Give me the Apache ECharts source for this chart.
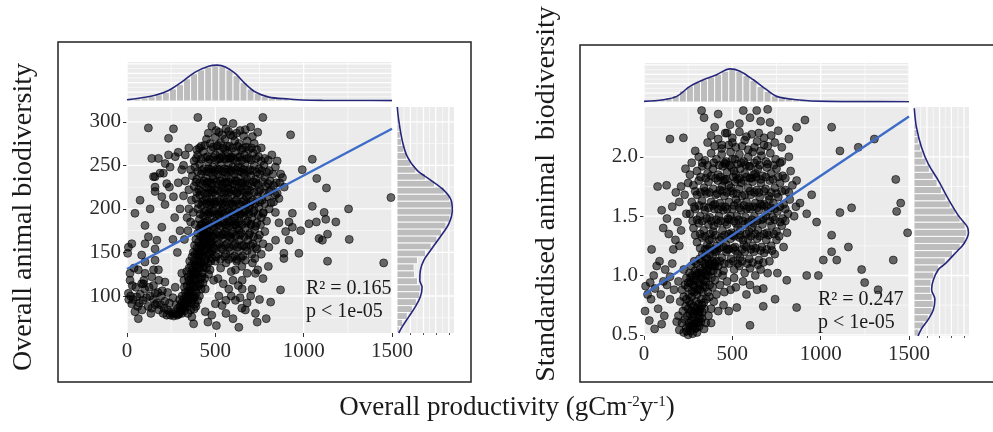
<!DOCTYPE html>
<html><head><meta charset="utf-8">
<script src="https://cdn.jsdelivr.net/npm/echarts@6/dist/echarts.min.js"></script>
<style>html,body{margin:0;padding:0;background:#fff}#c{width:993px;height:432px}</style>
</head><body><div id="c"></div>
<script>
// ---------- data ----------
const xTicks = [0, 500, 1000, 1500];
const xMinor = [250, 750, 1250];
const yTicksL = [100, 150, 200, 250, 300];
const yMinorL = [75, 125, 175, 225, 275];
const yTicksR = [0.5, 1.0, 1.5, 2.0];
const yMinorR = [0.75, 1.25, 1.75, 2.25];
const regL = [[0, 131], [1500, 292]];
const regR = [[0, 0.84], [1500, 2.34]];
const statsL = ['R\u00b2 = 0.165', 'p < 1e-05'];
const statsR = ['R\u00b2 = 0.247', 'p < 1e-05'];
const titleYL = 'Overall animal biodiversity';
const titleYR = 'Standardised animal  biodiversity';
const titleX = ['Overall productivity (gCm', '-2', 'y', '-1', ')'];

const ptsL = [
[121,293],[263,292],[401,305],[769,305],[926,285],[1049,257],[992,245],[1074,235],[1129,224],[1494,213],[1254,200],[1049,203],[1116,196],[1182,185],[1125,188],[1072,185],[1030,183],[983,175],[1135,171],[1087,166],[1106,164],[1258,165],[936,195],[917,185],[898,174],[936,179],[1135,140],[1453,138],[917,164],[841,164],[803,156],[888,149],[973,149],[888,143],[724,143],[869,107],[813,93],[788,74],[727,80],[670,84],[708,108],[652,108],[576,108],[614,95],[538,89],[500,91],[443,82],[443,108],[386,91],[367,76],[377,68],[458,70],[506,66],[633,64],[737,70],[386,126],[310,126],[273,110],[614,130],[652,118],[727,126],
[45,82],[64,74],[27,91],[8,103],[17,118],[4,149],[8,156],[17,126],[83,114],[140,122],[178,130],[159,103],[254,80],[93,114],[102,126],[159,154],[169,164],[102,160],[121,168],[197,179],[45,195],[74,210],[159,220],[150,237],[206,241],[178,258],[235,262],[263,214],[64,130],[40,132],
[131,200],[197,214],[159,225],[225,229],[187,241],[244,248],[216,252],[159,237],[140,258],[273,260],[235,281],[102,181],[27,160],[83,147],[102,139],[159,141],[150,130],
[20,100],[35,96],[55,99],[75,102],[90,95],[110,98],[130,100],[150,96],[170,92],[190,90],[210,86],[230,84],[250,82],[270,80],[290,79],[310,80],[325,83],[60,88],[85,84],[120,88],[140,86],[180,84],[205,80],[225,78],[245,78],[265,77],[285,78],[300,84],[318,90],[100,108],[125,110],[150,112],[200,106],[230,104],[260,98],[240,92],[215,94],[195,100],[175,104],[50,110],[30,112],[10,96],[70,92],[95,118],[180,118],[215,116],[278,90],[298,96],[160,90],[135,80],
[330,88],[340,92],[350,95],[335,100],[345,105],[355,110],[360,98],[370,104],[365,115],[375,120],[380,110],[385,128],[390,118],[395,135],[400,125],[405,142],[410,132],[415,150],[420,138],[425,158],[430,146],[435,165],[440,152],[445,170],[380,140],[370,130],[360,125],[350,118],[340,112],[330,104],[320,96],[310,92],[300,88],[290,86],[325,110],[345,122],[365,135],[385,148],[395,155],[405,162],[415,168],[355,140],[375,150],[390,165],[400,172],[410,178],[420,182],[430,178],[440,185],[312,100],[322,118],[338,128],[352,132],[368,145],[382,158],[398,148],[408,155],[418,145],[428,132],[438,140],[448,155],[455,165],[460,148],[470,160],[450,132],[462,125],[475,140],[480,152],[440,120],[430,115],[420,108],[410,100],[400,95],[390,88],[380,85],[360,84],[345,80],
[480,295],[520,288],[560,292],[600,298],[640,290],[700,294],[545,300],[585,285],[660,284],[740,288],
[450,280],[470,275],[500,282],[530,276],[555,280],[580,272],[610,278],[635,275],[655,270],[680,278],[720,275],[760,270],[420,272],[395,268],[600,284],[690,268],
[400,262],[430,266],[455,260],[475,268],[500,262],[525,266],[548,258],[570,264],[590,260],[615,266],[640,260],[665,262],[690,258],[715,264],[745,260],[780,258],[820,262],[380,255],[850,255],
[385,248],[410,252],[435,246],[460,254],[485,248],[505,256],[530,250],[552,246],[575,252],[598,248],[622,255],[645,247],[668,252],[695,245],[720,250],[748,246],[775,250],[805,244],[840,248],[870,240],[360,245],
[370,238],[395,234],[420,240],[445,236],[468,242],[490,234],[515,240],[538,236],[560,242],[585,234],[608,240],[630,236],[655,242],[678,234],[702,238],[728,234],[752,240],[780,236],[810,232],[845,230],[880,236],[330,232],
[380,226],[405,222],[428,228],[450,224],[472,230],[495,222],[518,228],[540,224],[563,230],[586,222],[610,228],[633,224],[657,230],[680,222],[705,226],[730,230],[755,222],[785,226],[815,222],[850,218],[350,222],[890,225],
[390,212],[412,216],[435,210],[458,218],[480,212],[502,216],[525,210],[548,218],[570,212],[594,216],[617,210],[640,216],[663,210],[688,216],[712,210],[738,214],[765,210],[795,214],[830,208],[860,212],[365,210],
[400,200],[422,204],[445,198],[468,204],[490,198],[512,204],[535,198],[558,204],[580,198],[603,204],[626,198],[649,204],[672,198],[696,204],[720,198],[746,202],[772,196],[805,200],[840,196],[375,196],
[410,188],[432,192],[455,186],[478,192],[500,186],[522,192],[545,186],[568,192],[590,186],[613,192],[636,186],[660,192],[683,186],[708,190],[735,184],[760,190],[790,186],[385,182],[860,184],
[420,176],[442,180],[465,174],[488,180],[510,174],[532,180],[555,174],[578,180],[600,174],[623,178],[646,172],[670,178],[695,172],[722,176],[750,170],[780,174],[455,170],
[430,164],[452,168],[475,162],[498,166],[520,160],[543,166],[566,160],[590,166],[612,160],[636,164],[660,158],[685,164],[712,160],[740,166],[770,160],
[470,150],[492,154],[515,148],[538,154],[560,148],[584,152],[608,146],[632,152],[656,146],[680,152],[706,148],[735,154],[760,148],
[500,140],[530,132],[560,138],[590,128],[620,140],[650,134],[680,126],[710,138],[740,130],[770,120],[800,134],[515,120],[545,114],[600,118],[630,112],[470,130],[490,118],[520,100],[560,95],[590,100],[640,98],[680,92],[560,80],[600,74],[480,78],[700,100],[750,96],[650,86],
[462,246],[488,238],[512,246],[538,228],[562,236],[588,244],[612,232],[628,248],[548,212],[572,224],[596,206],[622,218],[476,222],[498,208],[520,194],[544,202],[568,188],[592,196],[616,182],[640,194],[466,196],[490,176],[514,184],[538,170],[562,178],[586,168],[610,186],[634,176],[450,212],[474,206],[650,226],[664,240],[676,214],[690,200],[704,182],[452,230],[528,258],[556,268],[508,272],[582,258],
[300,200],[320,215],[340,190],[310,245],[330,262],[350,270],[290,230],[270,190],[345,175],[325,165],[300,175],[285,150],[260,165],[240,225],[215,205],[350,200],[360,185],[290,265],[320,250],
[460,287],[505,290],[540,285],[575,289],[620,287],[670,291],[710,283],
[410,270],[440,273],[488,271],[515,273],[545,270],[568,272],[598,270],[625,272],[648,268],[675,271],[705,270],[735,268],
[392,258],[420,257],[445,259],[468,257],[490,259],[515,257],[538,260],[560,257],[582,259],[605,257],[628,259],[652,256],[678,258],[703,256],[730,258],[760,255],[800,256],
[400,243],[425,244],[450,243],[475,245],[498,243],[522,245],[545,243],[568,245],[592,243],[615,245],[640,243],[662,245],[686,243],[710,244],[735,242],[762,244],[792,242],[825,240],
[390,231],[412,230],[436,232],[460,231],[482,229],[506,231],[528,232],[552,230],[575,231],[598,229],[620,232],[644,230],[668,231],[690,229],[716,231],[742,228],[768,231],[798,229],[830,227],[865,230],
[395,219],[418,220],[440,218],[463,221],[486,219],[510,221],[532,219],[555,221],[578,219],[602,221],[625,219],[648,221],[670,219],[695,221],[720,219],[745,220],[772,218],[805,220],[840,216],
[405,206],[428,208],[450,206],[472,208],[495,206],[518,208],[540,206],[563,208],[586,206],[610,208],[632,206],[655,208],[678,206],[702,208],[726,206],[752,208],[780,206],[815,207],
[415,194],[438,196],[460,194],[483,196],[506,194],[528,196],[550,194],[573,196],[596,194],[620,196],[643,194],[666,196],[690,194],[715,196],[742,193],[770,195],
[425,182],[448,184],[470,182],[493,184],[516,182],[538,184],[560,182],[583,184],[606,182],[630,184],[652,182],[676,184],[700,182],[728,180],[756,182],
[435,170],[458,171],[480,169],[503,171],[526,169],[548,171],[571,169],[594,171],[616,169],[640,170],[664,168],[690,170],[716,168],
[445,157],[467,158],[490,156],[512,158],[535,156],[557,158],[580,156],[603,158],[626,156],[650,158],[674,156],[700,158],[728,156],
[480,143],[505,145],[528,142],[552,145],[575,142],[598,144],[622,142],[646,144],[670,141],
[335,95],[348,100],[358,106],[372,112],[383,118],[392,126],[402,133],[412,140],[422,150],[432,158],[442,162],[452,175],[318,86],[328,92],[305,82],[295,80],[342,88],[362,92],[378,98],[393,104],[405,112],[416,120],[426,126],[436,134],[446,142],[458,138],[468,148],[478,162],[488,168],[364,120],[374,126],[386,136],[398,140],[408,150],[418,158],[428,168],[438,172],[356,102],[370,95],[384,100],[396,110],[413,114],[424,122]
];

const ptsR = [
[147,2.15],[223,2.16],[911,2.31],[1062,2.25],[1109,2.05],[1213,2.08],[1304,2.15],[1425,1.81],[1453,1.61],[1430,1.54],[1492,1.36],[1411,1.13],[1232,1.05],[1249,0.94],[1325,0.88],[1175,1.57],[1109,1.53],[1062,1.34],[1062,1.20],[1157,1.24],[1091,1.13],[1015,1.13],[987,1.00],[921,1.00],[864,0.73],[742,0.80],[808,0.96],[755,1.02],[675,0.89],[675,0.74],[600,0.58],[525,0.73],[6,0.70],[9,0.91],[43,1.22],[62,0.89],[77,1.75],[128,1.76],[100,1.55],[109,1.40],[166,1.22],[72,1.08],[147,0.99],[147,0.80],[100,0.59],[185,0.61],[864,1.80],[949,1.68],[977,1.45],[921,1.52],[883,1.61],[864,2.25],[713,2.29],[638,2.39],[562,2.39],[487,2.27],[326,2.39],
[340,2.33],[420,2.36],[600,2.33],[660,2.30],[700,2.40],[760,2.22],[540,2.28],[470,2.20],[400,2.25],[820,2.15],[780,2.08],[720,2.18],[650,2.20],[580,2.17],[500,2.12],[440,2.10],[360,2.12],
[30,0.62],[40,0.80],[60,0.55],[80,0.72],[95,0.84],[115,0.66],[130,0.92],[55,1.00],[88,1.12],[120,1.05],[160,1.10],[178,1.30],[140,1.35],[190,1.45],[200,1.62],[180,1.70],[160,1.58],[210,1.75],[230,1.68],[130,1.48],[200,1.25],[225,1.05],[20,0.84],[35,0.94],[170,0.88],[195,0.95],[110,0.95],[210,1.38],[240,1.52],[250,1.78],[235,1.90],[270,1.95],[290,2.05],[260,1.85],
[250,0.50],[262,0.53],[275,0.51],[288,0.55],[300,0.52],[312,0.57],[240,0.56],[255,0.60],[270,0.58],[285,0.62],[298,0.60],[310,0.64],[322,0.61],[230,0.63],[245,0.66],[260,0.68],[275,0.65],[290,0.70],[305,0.68],[318,0.72],[330,0.69],[220,0.70],[236,0.74],[250,0.72],[265,0.76],[280,0.74],[295,0.78],[310,0.76],[325,0.80],[338,0.77],[205,0.78],[225,0.82],[240,0.80],[255,0.84],[270,0.82],[285,0.86],[300,0.84],[315,0.88],[330,0.86],[345,0.90],[215,0.88],[232,0.92],[248,0.90],[262,0.94],[278,0.92],[292,0.96],[308,0.94],[322,0.98],[338,0.96],[352,1.00],[240,0.98],[258,1.02],[272,1.00],[288,1.04],[302,1.02],[318,1.06],[332,1.04],[348,1.08],[362,1.06],[268,1.08],[284,1.12],[298,1.10],[314,1.14],[328,1.12],[344,1.16],[358,1.14],[372,1.18],[385,1.12],[350,0.60],[365,0.66],[340,0.55],[380,0.72],[395,0.78],[410,0.84],[370,0.82],[388,0.90],[402,0.96],[418,1.02],[430,0.92],[445,1.00],[455,0.86],[470,0.95],[490,0.88],[510,0.98],[420,0.70],[450,0.75],[480,0.70],[380,0.60],[195,0.66],[215,0.60],[200,0.54],[225,0.52],
[380,2.18],[420,2.15],[460,2.20],[500,2.16],[540,2.21],[570,2.14],[610,2.19],[640,2.13],[680,2.16],[520,2.08],[590,2.06],[660,2.05],[700,2.09],[740,2.12],
[310,2.00],[345,1.97],[380,2.03],[410,1.98],[440,2.02],[465,1.96],[490,2.04],[515,1.98],[540,2.02],[565,1.96],[590,2.00],[615,2.04],[640,1.97],[665,2.01],[690,1.96],[715,2.03],[745,1.98],[780,1.96],[820,2.00],
[300,1.88],[330,1.92],[360,1.86],[390,1.90],[420,1.85],[445,1.92],[470,1.87],[495,1.91],[520,1.85],[545,1.90],[570,1.86],[595,1.92],[620,1.85],[645,1.90],[670,1.84],[695,1.91],[720,1.86],[750,1.90],[785,1.84],[830,1.88],
[280,1.76],[310,1.80],[340,1.74],[365,1.79],[392,1.73],[418,1.80],[442,1.75],[468,1.81],[492,1.74],[516,1.79],[540,1.73],[565,1.80],[590,1.74],[614,1.79],[638,1.72],[662,1.78],[688,1.73],[712,1.80],[740,1.74],[770,1.78],[800,1.72],[840,1.76],
[270,1.62],[300,1.68],[328,1.63],[354,1.69],[380,1.62],[405,1.68],[430,1.61],[455,1.67],[480,1.62],[505,1.69],[530,1.61],[555,1.67],[580,1.62],[605,1.68],[630,1.61],[655,1.66],[680,1.60],[705,1.67],[732,1.61],[760,1.66],[790,1.60],[825,1.64],[860,1.58],
[260,1.52],[290,1.56],[318,1.50],[345,1.55],[372,1.49],[398,1.56],[424,1.50],[450,1.55],[475,1.48],[500,1.56],[525,1.50],[550,1.55],[575,1.49],[600,1.56],[625,1.50],[650,1.55],[675,1.48],[700,1.54],[728,1.49],[755,1.54],[785,1.48],[815,1.52],[850,1.50],
[280,1.40],[310,1.44],[338,1.38],[365,1.43],[392,1.37],[418,1.44],[444,1.38],[470,1.43],[495,1.36],[520,1.44],[545,1.38],[570,1.43],[595,1.37],[620,1.44],[645,1.38],[670,1.43],[696,1.36],[722,1.42],[750,1.37],[780,1.42],[810,1.36],
[300,1.28],[330,1.32],[358,1.26],[385,1.31],[412,1.25],[438,1.32],[464,1.26],[490,1.31],[515,1.24],[540,1.32],[565,1.26],[590,1.31],[615,1.25],[640,1.31],[666,1.24],[692,1.30],[720,1.25],[750,1.30],[790,1.24],
[330,1.18],[360,1.22],[388,1.16],[414,1.21],[440,1.15],[466,1.20],[492,1.14],[518,1.21],[544,1.15],[570,1.20],[596,1.14],[622,1.20],[650,1.13],[680,1.19],[710,1.12],[740,1.18],
[420,1.08],[450,1.04],[480,1.10],[510,1.05],[540,1.08],[570,1.02],[600,1.06],[630,1.00],[660,1.05],[700,1.02],[560,0.95],[600,0.92],[640,0.88],[520,0.90],[580,0.84],
[400,1.60],[430,1.72],[460,1.58],[490,1.50],[520,1.64],[550,1.78],[580,1.56],[610,1.40],[460,1.45],[430,1.30],[500,1.34],[530,1.40],[560,1.30],[590,1.45],[620,1.58],[650,1.70],[480,1.76],[510,1.88],[540,1.82],[570,1.68],[600,1.82],[450,1.80],[420,1.56],[395,1.42],[370,1.30],[405,1.20],[470,1.22],[530,1.18],[460,1.94],[500,1.98],[550,1.95],[600,1.92],[630,1.86],[660,1.60],[690,1.50],[710,1.64],[740,1.56],[680,1.35],
[400,2.09],[440,2.07],[480,2.10],[555,2.09],[625,2.08],[680,2.10],
[330,1.95],[360,1.93],[395,1.95],[425,1.93],[455,1.95],[485,1.93],[530,1.94],[575,1.93],[625,1.95],[655,1.93],[700,1.94],[735,1.93],[770,1.95],
[320,1.83],[350,1.82],[380,1.84],[405,1.82],[432,1.83],[458,1.81],[505,1.83],[530,1.81],[580,1.83],[610,1.82],[635,1.83],[660,1.81],[690,1.83],[730,1.81],[760,1.83],[800,1.82],
[290,1.71],[320,1.70],[345,1.71],[372,1.70],[415,1.69],[445,1.71],[470,1.70],[495,1.71],[525,1.69],[600,1.71],[625,1.70],[680,1.71],[720,1.70],[750,1.69],[780,1.71],[820,1.70],
[285,1.58],[312,1.59],[340,1.58],[365,1.57],[390,1.59],[440,1.58],[470,1.56],[510,1.59],[540,1.57],[565,1.59],[595,1.58],[640,1.57],[670,1.59],[695,1.58],[720,1.57],[770,1.58],[800,1.56],
[275,1.46],[300,1.47],[330,1.46],[355,1.48],[382,1.46],[410,1.47],[435,1.46],[480,1.47],[510,1.46],[535,1.47],[560,1.46],[612,1.47],[640,1.46],[665,1.47],[712,1.46],[740,1.47],[770,1.45],[800,1.46],
[290,1.34],[318,1.35],[345,1.33],[375,1.35],[405,1.34],[455,1.34],[480,1.35],[510,1.33],[545,1.34],[580,1.35],[605,1.33],[630,1.35],[655,1.33],[705,1.34],[735,1.35],[765,1.33],
[318,1.23],[345,1.22],[372,1.24],[398,1.22],[425,1.23],[450,1.24],[480,1.22],[505,1.23],[555,1.22],[580,1.24],[605,1.22],[632,1.23],[660,1.21],[695,1.22],[725,1.21],
[345,1.10],[372,1.09],[400,1.10],[430,1.12],[455,1.10],[505,1.12],[530,1.10],[555,1.12],[585,1.10],[615,1.11],[645,1.09],[675,1.11],
[242,0.53],[258,0.57],[282,0.58],[296,0.56],[306,0.60],[316,0.66],[328,0.64],[268,0.62],[282,0.68],[298,0.72],[312,0.70],[328,0.75],[342,0.72],[352,0.80],[362,0.86],[372,0.92],[382,0.98],[392,1.04],[402,1.08],[268,0.70],[256,0.78],[272,0.87],[288,0.90],[302,0.88],[318,0.92],[336,0.92],[350,0.95],[364,1.00],[378,1.04],[394,1.08],[410,1.12],[250,0.94],[264,0.98],[280,0.96],[296,1.00],[312,1.02],[326,1.00],[340,1.02],[356,1.04],[370,1.10]
];

// marginal histograms: [binStart, binEnd, relative height]
const topHistL = [[0,40,3],[40,80,5],[80,120,8],[120,160,11],[160,200,16],[200,240,22],[240,280,31],[280,320,42],[320,360,57],[360,400,70],[400,440,80],[440,480,87],[480,520,90],[520,560,88],[560,600,80],[600,640,65],[640,680,47],[680,720,31],[720,760,20],[760,800,12],[800,840,8],[840,880,6],[880,920,4],[920,960,3],[960,1000,2]];
const topDenL = [[0,3.4],[83,8.5],[159,14.5],[235,27],[311,49],[386,74],[462,89],[510,92],[557,87],[614,70],[670,44],[727,23],[803,10],[917,5],[992,2.5],[1106,1.5],[1300,1.2],[1500,1]];
const sideHistL = [[57.5,65,4],[65,73,10],[73,81,18],[81,89,27],[89,97,34],[97,105,40],[105,113,42],[113,121,36],[121,129,31],[129,137,30],[137,145,36],[145,153,50],[153,161,60],[161,169,70],[169,177,78],[177,185,86],[185,193,93],[193,201,96],[201,209,96],[209,217,92],[217,225,83],[225,233,66],[233,241,50],[241,249,33],[249,257,24],[257,265,17],[265,273,12],[273,281,8],[281,289,6],[289,297,4],[297,305,3],[305,313,2]];
const sideDenL = [[3,57.5],[9,64.5],[20.5,76],[32,87.5],[41,99],[44,110],[40,118],[41,129.5],[47,141],[59,152.5],[76,168],[91,183],[97,198.5],[95,210],[82,221.5],[59,233],[35,244.5],[18,260],[9,279],[3,302],[0.5,317]];
const topHistR = [[0,40,2],[40,80,4],[80,120,6],[120,160,10],[160,200,17],[200,240,29],[240,280,41],[280,320,50],[320,360,57],[360,400,64],[400,440,71],[440,480,79],[480,520,84],[520,560,79],[560,600,68],[600,640,55],[640,680,40],[680,720,27],[720,760,16],[760,800,10],[800,840,7],[840,880,5],[880,920,4],[920,960,3],[960,1000,2]];
const topDenR = [[0,1.5],[109,5.9],[185,14.4],[260,40],[336,57],[411,70],[487,85],[543,79],[619,57],[694,31.5],[751,14.4],[864,5.9],[1033,1.5],[1200,1],[1500,0.8]];
const sideHistR = [[0.49,0.55,9],[0.55,0.61,18],[0.61,0.67,26],[0.67,0.73,33],[0.73,0.79,35],[0.79,0.85,33],[0.85,0.91,30],[0.91,0.97,31],[0.97,1.03,36],[1.03,1.09,45],[1.09,1.15,57],[1.15,1.21,70],[1.21,1.27,84],[1.27,1.33,93],[1.33,1.39,96],[1.39,1.45,93],[1.45,1.51,84],[1.51,1.57,75],[1.57,1.63,66],[1.63,1.69,58],[1.69,1.75,50],[1.75,1.81,42],[1.81,1.87,35],[1.87,1.93,28],[1.93,1.99,22],[1.99,2.05,16],[2.05,2.11,12],[2.11,2.17,8],[2.17,2.23,6],[2.23,2.29,4],[2.29,2.35,2],[2.35,2.41,1]];
const sideDenR = [[7.4,0.49],[13.6,0.55],[26,0.63],[35,0.71],[38,0.80],[32,0.88],[35,0.96],[44.4,1.05],[57,1.10],[75.4,1.19],[91,1.27],[99,1.36],[97,1.41],[81.5,1.50],[63,1.64],[44.4,1.80],[25.9,1.94],[13.6,2.08],[4.4,2.25],[0.5,2.41]];
const margTicks = [23.5, 46.5, 68, 91];
const margMinor = [12, 35, 57, 80];

// ---------- chart ----------
const FONT = 'Liberation Serif';
const XR = [0, 1500], YRL = [57.5, 317], YRR = [0.49, 2.42], HR = [0, 100];

function gridLines(vert, horiz) {
  const d = [];
  vert.forEach(v => d.push([0, v[0], v[1]]));
  horiz.forEach(v => d.push([1, v[0], v[1]]));
  return d;
}
function lineSeries(xi, yi, xr, yr, data) {
  return {
    type: 'custom', xAxisIndex: xi, yAxisIndex: yi, z: 1, silent: true,
    data: data, encode: {x: 1, y: 1},
    renderItem: function (p, api) {
      const o = api.value(0), v = api.value(1), w = api.value(2);
      let a, b;
      if (o === 0) { a = api.coord([v, yr[0]]); b = api.coord([v, yr[1]]); }
      else { a = api.coord([xr[0], v]); b = api.coord([xr[1], v]); }
      return {type: 'line', shape: {x1: a[0], y1: a[1], x2: b[0], y2: b[1]},
        style: {stroke: '#ffffff', lineWidth: w}};
    }
  };
}
const W1 = 1.3, W2 = 0.6;
const maj = a => a.map(v => [v, W1]);
const min = a => a.map(v => [v, W2]);

function histTop(xi, yi, data) {
  return {
    type: 'custom', xAxisIndex: xi, yAxisIndex: yi, z: 2, silent: true, data: data,
    encode: {x: [0, 1], y: 2},
    renderItem: function (p, api) {
      const a = api.coord([api.value(0), 0]), b = api.coord([api.value(1), api.value(2)]);
      return {type: 'rect', shape: {x: a[0], y: b[1], width: b[0] - a[0], height: a[1] - b[1]},
        style: {fill: '#bdbdbd', stroke: '#ffffff', lineWidth: 0.9}};
    }
  };
}
function histSide(xi, yi, data) {
  return {
    type: 'custom', xAxisIndex: xi, yAxisIndex: yi, z: 2, silent: true, data: data,
    encode: {x: 2, y: [0, 1]},
    renderItem: function (p, api) {
      const a = api.coord([0, api.value(0)]), b = api.coord([api.value(2), api.value(1)]);
      return {type: 'rect', shape: {x: a[0], y: b[1], width: b[0] - a[0], height: a[1] - b[1]},
        style: {fill: '#bdbdbd', stroke: '#ffffff', lineWidth: 0.9}};
    }
  };
}
function density(xi, yi, data) {
  return {type: 'line', xAxisIndex: xi, yAxisIndex: yi, z: 3, data: data, smooth: 0.35,
    showSymbol: false, silent: true, lineStyle: {color: '#26277a', width: 1.6}};
}
function scatter(xi, yi, data) {
  return {type: 'scatter', xAxisIndex: xi, yAxisIndex: yi, z: 4, data: data, symbolSize: 8,
    silent: true,
    itemStyle: {color: 'rgba(0,0,0,0.72)', borderColor: 'rgba(0,0,0,0.9)', borderWidth: 0.8}};
}
function reg(xi, yi, data) {
  return {type: 'line', xAxisIndex: xi, yAxisIndex: yi, z: 5, data: data, showSymbol: false,
    silent: true, lineStyle: {color: '#3d6cc8', width: 2.4}};
}

const tickStyle = {show: true, length: 4, lineStyle: {color: '#333', width: 1}};
const labStyle = {fontFamily: FONT, fontSize: 21, color: '#2a2a2a'};
const plain = v => String(v);

function valAxis(gi, range, extra) {
  return Object.assign({type: 'value', gridIndex: gi, min: range[0], max: range[1],
    axisLine: {show: false}, splitLine: {show: false}, axisTick: {show: false},
    axisLabel: {show: false}}, extra || {});
}

const xAxis = [
  valAxis(0, XR, {axisTick: Object.assign({customValues: xTicks}, tickStyle),
    axisLabel: Object.assign({show: true, customValues: xTicks, margin: 8, formatter: plain}, labStyle)}),
  valAxis(1, XR),
  valAxis(2, HR, {axisTick: {show: true, customValues: margTicks, length: 2, lineStyle: {color: '#555'}}}),
  valAxis(3, XR, {axisTick: Object.assign({customValues: xTicks}, tickStyle),
    axisLabel: Object.assign({show: true, customValues: xTicks, margin: 8, formatter: plain}, labStyle)}),
  valAxis(4, XR),
  valAxis(5, HR, {axisTick: {show: true, customValues: margTicks, length: 2, lineStyle: {color: '#555'}}})
];
const yAxis = [
  valAxis(0, YRL, {axisTick: Object.assign({customValues: yTicksL}, tickStyle),
    axisLabel: Object.assign({show: true, customValues: yTicksL, margin: 6, formatter: plain}, labStyle)}),
  valAxis(1, HR),
  valAxis(2, YRL),
  valAxis(3, YRR, {axisTick: Object.assign({customValues: yTicksR}, tickStyle),
    axisLabel: Object.assign({show: true, customValues: yTicksR, margin: 6,
      formatter: v => Number(v).toFixed(1)}, labStyle)}),
  valAxis(4, HR),
  valAxis(5, YRR)
];
const gbg = {show: true, backgroundColor: '#ebebeb', borderWidth: 0};
const grid = [
  Object.assign({left: 127, top: 107, width: 265, height: 226}, gbg),
  Object.assign({left: 127, top: 62, width: 265, height: 39}, gbg),
  Object.assign({left: 397, top: 107, width: 57, height: 226}, gbg),
  Object.assign({left: 644, top: 107, width: 265, height: 229}, gbg),
  Object.assign({left: 644, top: 63, width: 265, height: 39}, gbg),
  Object.assign({left: 914, top: 107, width: 55, height: 229}, gbg)
];
const hLinesTop = [[11, W2], [23, W1], [35, W2], [47, W1], [59, W2], [71, W1], [83, W2], [95, W1]];

const series = [
  lineSeries(0, 0, XR, YRL, gridLines(maj(xTicks).concat(min(xMinor)), maj(yTicksL).concat(min(yMinorL)))),
  lineSeries(1, 1, XR, HR, gridLines(maj(xTicks).concat(min(xMinor)), hLinesTop)),
  lineSeries(2, 2, HR, YRL, gridLines(maj(margTicks).concat(min(margMinor)), maj(yTicksL).concat(min(yMinorL)))),
  lineSeries(3, 3, XR, YRR, gridLines(maj(xTicks).concat(min(xMinor)), maj(yTicksR).concat(min(yMinorR)))),
  lineSeries(4, 4, XR, HR, gridLines(maj(xTicks).concat(min(xMinor)), hLinesTop)),
  lineSeries(5, 5, HR, YRR, gridLines(maj(margTicks).concat(min(margMinor)), maj(yTicksR).concat(min(yMinorR)))),
  histTop(1, 1, topHistL), density(1, 1, topDenL),
  histSide(2, 2, sideHistL), density(2, 2, sideDenL),
  histTop(4, 4, topHistR), density(4, 4, topDenR),
  histSide(5, 5, sideHistR), density(5, 5, sideDenR),
  scatter(0, 0, ptsL), reg(0, 0, regL),
  scatter(3, 3, ptsR), reg(3, 3, regR)
];

const txt = (x, y, s, size, extra) => ({type: 'text', x: x, y: y, z: 100,
  style: Object.assign({text: s, font: size + 'px "' + FONT + '"', fill: '#1a1a1a',
    textAlign: 'left', textVerticalAlign: 'middle'}, extra || {})});

const graphic = [
  {type: 'rect', shape: {x: 58, y: 42, width: 413, height: 340}, style: {fill: 'none', stroke: '#222', lineWidth: 1.5}, z: 100},
  {type: 'rect', shape: {x: 580, y: 45, width: 430, height: 337}, style: {fill: 'none', stroke: '#222', lineWidth: 1.5}, z: 100},
  txt(306, 289, statsL[0], 20), txt(306, 312, statsL[1], 20),
  txt(818, 300, statsR[0], 20), txt(818, 323, statsR[1], 20),
  Object.assign(txt(24, 217, titleYL, 28, {textAlign: 'center'}), {rotation: Math.PI / 2}),
  Object.assign(txt(547, 194, titleYR, 28, {textAlign: 'center'}), {rotation: Math.PI / 2}),
  {type: 'text', x: 507, y: 408, z: 100, style: {
    text: '{n|' + titleX[0] + '}{s|' + titleX[1] + '}{n|' + titleX[2] + '}{s|' + titleX[3] + '}{n|' + titleX[4] + '}',
    textAlign: 'center', textVerticalAlign: 'middle', fill: '#1a1a1a',
    rich: {n: {fontFamily: FONT, fontSize: 27, lineHeight: 30, fill: '#1a1a1a'},
           s: {fontFamily: FONT, fontSize: 15, lineHeight: 30, verticalAlign: 'top', padding: [2, 0, 0, 0], fill: '#1a1a1a'}}
  }}
];

const chart = echarts.init(document.getElementById('c'), null, {renderer: 'canvas'});
chart.setOption({animation: false, backgroundColor: '#ffffff', grid: grid, xAxis: xAxis, yAxis: yAxis, series: series, graphic: graphic});
</script></body></html>
